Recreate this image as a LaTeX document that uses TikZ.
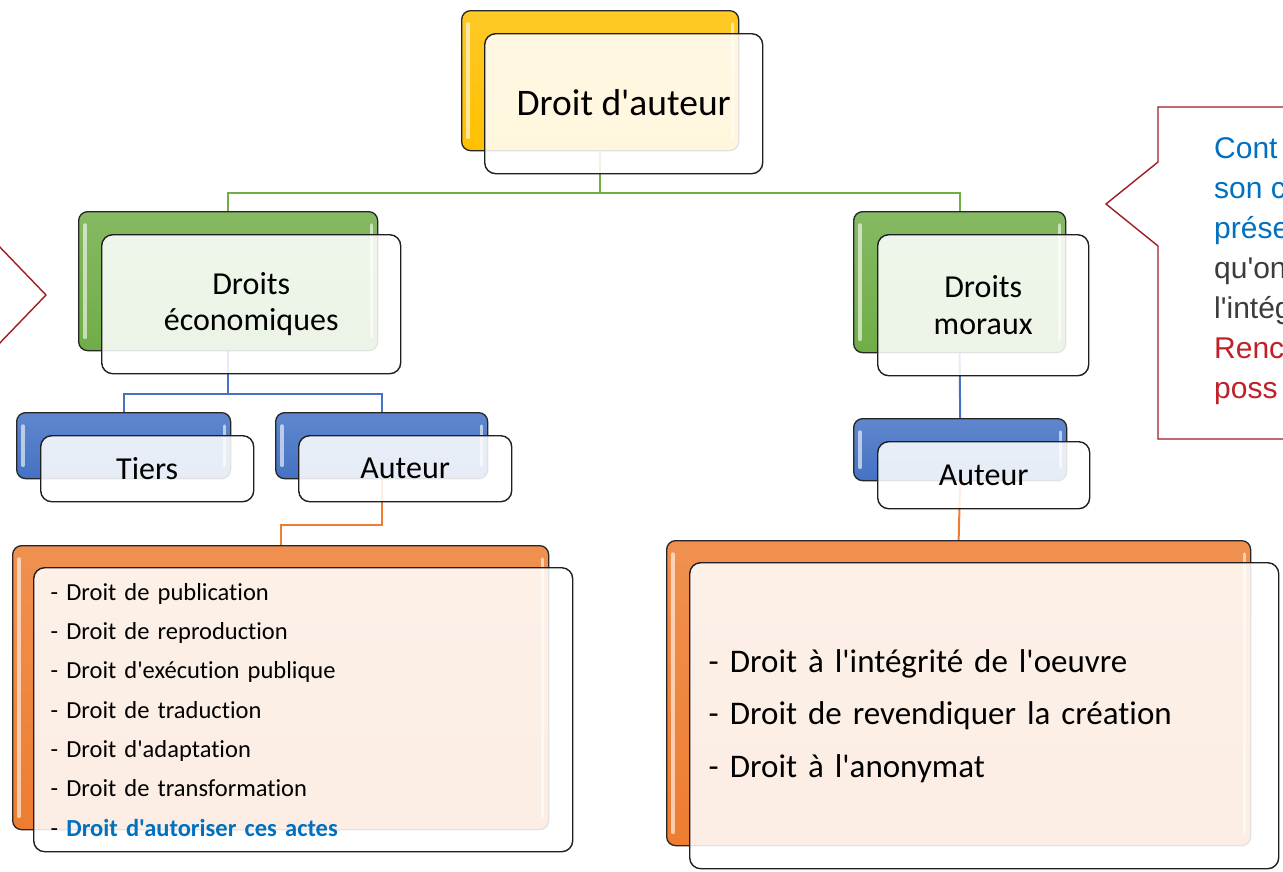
\documentclass[tikz,border=0pt]{standalone}
\usepackage{fontspec}
\setmainfont{Carlito}[Ligatures={TeXOff,NoCommon}]
\newfontfamily\arialf{Liberation Sans}[Ligatures={TeXOff,NoCommon}]
\pgfdeclarelayer{bg}
\pgfsetlayers{bg,main}
\definecolor{cyel}{RGB}{255,192,0}
\definecolor{cgrn}{RGB}{112,173,71}
\definecolor{cblu}{RGB}{68,114,196}
\definecolor{corg}{RGB}{237,125,49}
\definecolor{cred}{RGB}{160,28,36}
\definecolor{ctblue}{RGB}{0,112,192}
\definecolor{ctred}{RGB}{192,32,40}
\definecolor{ctgray}{RGB}{60,60,60}
\tikzset{
  backbox/.style={draw=black!85, line width=1.3pt, rounded corners=9pt, anchor=north west, inner sep=0pt,
    top color=#1!85!white, bottom color=#1},
  frontbox/.style={draw=black!88, line width=1.4pt, rounded corners=11pt, anchor=north west, inner sep=0pt,
    fill=white, fill opacity=0.87, text opacity=1, align=center},
  hl/.style={white, line width=3.5pt, line cap=round, opacity=0.6},
  conn/.style={line width=2pt, #1},
  callout/.style={draw=cred, line width=1.4pt, line join=miter},
  ctext/.style={anchor=base west, inner sep=0pt, font=\arialf\fontsize{30}{40}\selectfont}
}
\newcommand{\glossy}[1]{%
  \draw[hl] ([xshift=7pt,yshift=-14pt]#1.north west) -- ([xshift=7pt,yshift=14pt]#1.south west);
  \draw[hl] ([xshift=-7pt,yshift=-14pt]#1.north east) -- ([xshift=-7pt,yshift=14pt]#1.south east);}
\begin{document}
\begin{tikzpicture}[x=1pt,y=-1pt]
\useasboundingbox (0,0) rectangle (1283,871);
\begin{pgfonlayer}{bg}
\fill[white] (0,0) rectangle (1283,871);
\end{pgfonlayer}
\clip (0,0) rectangle (1283,871);

% ---------- back boxes ----------
\node[backbox=cyel, minimum width=277pt, minimum height=140pt] (daB) at (461,10) {};
\node[backbox=cgrn, minimum width=299pt, minimum height=139pt] (ecoB) at (78,211) {};
\node[backbox=cgrn, minimum width=212pt, minimum height=141pt] (morB) at (853,211) {};
\node[backbox=cblu, minimum width=214pt, minimum height=66pt] (tiB) at (16,412) {};
\node[backbox=cblu, minimum width=212pt, minimum height=66pt] (auLB) at (275,412) {};
\node[backbox=cblu, minimum width=213pt, minimum height=62pt] (auRB) at (853,418) {};
\node[backbox=corg, minimum width=536pt, minimum height=284pt] (lstLB) at (12,545) {};
\node[backbox=corg, minimum width=584pt, minimum height=305pt] (lstRB) at (666,540) {};
\glossy{daB}\glossy{ecoB}\glossy{morB}\glossy{tiB}\glossy{auLB}\glossy{auRB}\glossy{lstLB}\glossy{lstRB}

% ---------- front boxes ----------
\node[frontbox, minimum width=278pt, minimum height=140pt, font=\fontsize{37.5}{44}\selectfont] (da) at (484,33) {\raisebox{1.5pt}{Droit d'auteur}};
\node[frontbox, minimum width=299pt, minimum height=139pt, font=\fontsize{32}{37}\selectfont] (eco) at (101,234) {Droits\\[-0.5pt]économiques};
\node[frontbox, minimum width=211pt, minimum height=141pt, font=\fontsize{32}{37}\selectfont] (mor) at (877,234) {Droits\\[-0.5pt]moraux};
\node[frontbox, minimum width=213pt, minimum height=66pt, font=\fontsize{32}{37}\selectfont] (ti) at (40,435) {Tiers};
\node[frontbox, minimum width=213pt, minimum height=66pt, font=\fontsize{32}{37}\selectfont] (auL) at (298,435) {Auteur};
\node[frontbox, minimum width=212pt, minimum height=67pt, font=\fontsize{32}{37}\selectfont] (auR) at (877,441) {Auteur};
\node[frontbox, minimum width=539pt, minimum height=284pt, text width=505pt, align=left, inner xsep=17pt,
      font=\fontsize{24.5}{39.3}\selectfont] (lstL) at (33,567)
  {- Droit de publication\\
   - Droit de reproduction\\
   - Droit d'exécution publique\\
   - Droit de traduction\\
   - Droit d'adaptation\\
   - Droit de transformation\\
   - {\color{ctblue}\bfseries Droit d'autoriser ces actes}};
\node[frontbox, minimum width=589pt, minimum height=306pt, text width=551pt, align=left, inner xsep=19pt,
      font=\fontsize{33}{52.5}\selectfont] (lstR) at (689,562)
  {- Droit à l'intégrité de l'oeuvre\\
   - Droit de revendiquer la création\\
   - Droit à l'anonymat};

% ---------- connectors ----------
\coordinate (gbar) at (0,193);
\coordinate (bbar) at (0,394);
\coordinate (obar) at (0,525);
\begin{pgfonlayer}{bg}
\draw[conn=cgrn] (daB.south) -- (daB.south |- gbar) -| (ecoB.north);
\draw[conn=cgrn] (daB.south |- gbar) -| (morB.north);
\draw[conn=cblu] (ecoB.south) -- (ecoB.south |- bbar) -| (tiB.north);
\draw[conn=cblu] (ecoB.south |- bbar) -| (auLB.north);
\draw[conn=cblu] (morB.south) -- (auRB.north);
\draw[conn=corg] (auLB.south) -- (auLB.south |- obar) -| (lstLB.north);
\draw[conn=corg] (auRB.south) -- (lstRB.north);
\end{pgfonlayer}

% ---------- callouts ----------
\filldraw[callout, fill=white] (1300,107) -- (1158,107) -- (1158,162) -- (1106,204) -- (1158,246) -- (1158,439) -- (1300,439);
\node[ctext, text=ctblue] (c1) at (1214,158) {Cont};
\node[ctext, text=ctblue] (c2) at (1214,198) {son c};
\node[ctext, text=ctblue] (c3) at (1214,238) {prése};
\node[ctext, text=ctgray] (c4) at (1214,278) {qu'on};
\node[ctext, text=ctgray] (c5) at (1214,318) {l'intég};
\node[ctext, text=ctred] (c6) at (1214,358) {Renc};
\node[ctext, text=ctred] (c7) at (1214,398) {poss};
\draw[callout] (-5,242) -- (46,295) -- (-5,348);
\end{tikzpicture}
\end{document}
